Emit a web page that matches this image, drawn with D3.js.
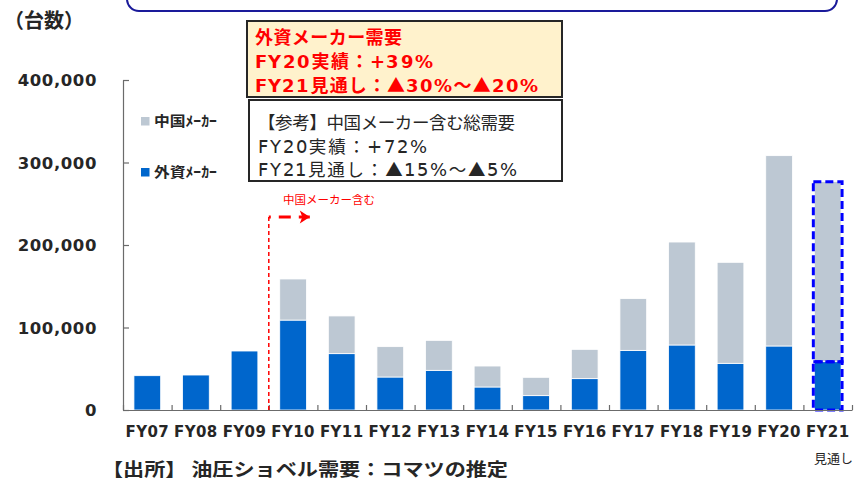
<!DOCTYPE html>
<html>
<head>
<meta charset="utf-8">
<script src="https://cdn.jsdelivr.net/npm/d3@7"></script>
<style>
  @font-face { font-family: "LatinW"; src: local("DejaVu Sans Bold"), local("DejaVuSans-Bold"); font-weight: 700; unicode-range: U+0020-007E; }
  @font-face { font-family: "LatinW"; src: local("DejaVu Sans"), local("DejaVuSans"); font-weight: 400; unicode-range: U+0020-007E; }
  html, body { margin: 0; padding: 0; background: #fff; }
  svg { display: block; }
  .jp { font-family: "Noto Sans CJK JP", "Noto Sans", sans-serif; }
  .mix { font-family: "LatinW", "Noto Sans CJK JP", sans-serif; }
  .lat { font-family: "DejaVu Sans", Verdana, sans-serif; }
</style>
</head>
<body>
<svg id="chart" width="856" height="486"></svg>
<script>
// Hydraulic excavator demand (units), foreign makers vs. Chinese makers
const categories = ["FY07","FY08","FY09","FY10","FY11","FY12","FY13","FY14","FY15","FY16","FY17","FY18","FY19","FY20","FY21"];
const foreignMakers = [41600, 42400, 71500, 109000, 68300, 40000, 48100, 27900, 17400, 38000, 72300, 78800, 56600, 77600, 58600];
const chineseMakers = [0, 0, 0, 49800, 45700, 36800, 36300, 25400, 22200, 35500, 62700, 124800, 122400, 230700, 218200];
const yTicks = [0, 100000, 200000, 300000, 400000];
const forecastCategory = "FY21";
const chinaStartCategory = "FY10";

const svg = d3.select("#chart");

const x = d3.scaleBand().domain(categories).range([123, 852]).paddingInner(0.45).paddingOuter(0.225);
const y = d3.scaleLinear().domain([0, 400000]).range([410, 80]);

const colForeign = "#0066CC";
const colChina = "#BDC8D3";
const axisCol = "#6b6b6b";
const textCol = "#262626";

// --- top heading frame (continues above the visible area)
svg.append("rect").attr("x", 127).attr("y", -24).attr("width", 710).attr("height", 35)
  .attr("rx", 12).attr("fill", "#fff").attr("stroke", "#1a1a9a").attr("stroke-width", 2);

// --- unit label
svg.append("text").attr("class", "jp").attr("x", 4).attr("y", 28)
  .attr("font-size", 20).attr("font-weight", 700).attr("fill", textCol).text("（台数）");

// --- stacked bars
const rows = categories.map((c, i) => ({ cat: c, foreign: foreignMakers[i], china: chineseMakers[i] }));
const stack = d3.stack().keys(["foreign", "china"])(rows);
const colors = { foreign: colForeign, china: colChina };

svg.append("g").selectAll("g").data(stack).join("g")
  .attr("fill", d => colors[d.key])
  .selectAll("rect").data(d => d.filter(p => p[1] > p[0])).join("rect")
  .attr("x", d => x(d.data.cat))
  .attr("width", x.bandwidth())
  .attr("y", d => y(d[1]))
  .attr("height", d => y(d[0]) - y(d[1]))
  .attr("stroke", "#fff").attr("stroke-width", 0.8);

// forecast year outlined with dashed blue boxes
svg.append("g").selectAll("rect").data(stack.map(s => s.find(p => p.data.cat === forecastCategory))).join("rect")
  .attr("x", d => x(d.data.cat) - 1)
  .attr("width", x.bandwidth() + 2)
  .attr("y", d => y(d[1]))
  .attr("height", d => y(d[0]) - y(d[1]))
  .attr("fill", "none").attr("stroke", "#0000FF").attr("stroke-width", 3)
  .attr("stroke-dasharray", "8,4");

// --- y axis
const yAxis = svg.append("g").attr("transform", "translate(123,0)")
  .call(d3.axisLeft(y).tickValues(yTicks).tickSize(-6).tickSizeOuter(0).tickFormat(d3.format(",")));
yAxis.select(".domain").attr("stroke", axisCol).attr("stroke-width", 1.2);
yAxis.selectAll(".tick line").attr("stroke", axisCol).attr("stroke-width", 1.2);
yAxis.selectAll(".tick text").attr("class", "lat").attr("x", -26).attr("dy", "0.36em")
  .attr("font-size", 16.5).attr("font-weight", 700).attr("letter-spacing", 0.6).attr("fill", textCol);

// --- x axis: boundary ticks and category labels
const idx = d3.scaleLinear().domain([0, categories.length]).range([x.range()[0], x.range()[1]]);
const xTicks = svg.append("g").attr("transform", "translate(0,410)")
  .call(d3.axisBottom(idx).tickValues(d3.range(categories.length + 1)).tickSize(-5).tickSizeOuter(0).tickFormat(""));
xTicks.select(".domain").attr("stroke", axisCol).attr("stroke-width", 1.2);
xTicks.selectAll(".tick line").attr("stroke", axisCol).attr("stroke-width", 1.2);

const xAxis = svg.append("g").attr("transform", "translate(0,410)")
  .call(d3.axisBottom(x).tickSize(0).tickPadding(16));
xAxis.select(".domain").remove();
xAxis.selectAll(".tick text").attr("class", "lat")
  .attr("font-size", 15).attr("font-weight", 700).attr("letter-spacing", 0.4).attr("fill", textCol);

svg.append("text").attr("class", "jp").attr("x", 853).attr("y", 463).attr("text-anchor", "end")
  .attr("font-size", 13).attr("fill", textCol).text("見通し");

// --- legend
const legend = [
  { label: "中国ﾒｰｶｰ", color: colChina, y: 121.5 },
  { label: "外資ﾒｰｶｰ", color: colForeign, y: 172.5 }
];
const lg = svg.append("g").selectAll("g").data(legend).join("g");
lg.append("rect").attr("x", 141).attr("y", d => d.y - 4.5).attr("width", 8.5).attr("height", 8.5).attr("fill", d => d.color);
lg.append("text").attr("class", "jp").attr("x", 154).attr("y", d => d.y + 4.5)
  .attr("font-size", 14).attr("font-weight", 700).attr("fill", textCol)
  .attr("textLength", 63).attr("lengthAdjust", "spacingAndGlyphs").text(d => d.label);

// --- marker: Chinese makers included from FY10 onward
const bx = x(chinaStartCategory) - x.step() * x.paddingInner() / 2;
svg.append("line").attr("x1", bx).attr("x2", bx).attr("y1", 217).attr("y2", 410)
  .attr("stroke", "#FF0000").attr("stroke-width", 1.5).attr("stroke-dasharray", "4,3");
svg.append("line").attr("x1", bx).attr("x2", bx + 41).attr("y1", 217).attr("y2", 217)
  .attr("stroke", "#FF0000").attr("stroke-width", 3).attr("stroke-dasharray", "2,8,12,8,12");
svg.append("path")
  .attr("d", `M${bx + 41},217 l-10,-6.5 l2.5,6.5 l-2.5,6.5 Z`)
  .attr("fill", "#FF0000");
svg.append("text").attr("class", "jp").attr("x", 283).attr("y", 204)
  .attr("font-size", 11.5).attr("fill", "#FF0000").text("中国メーカー含む");

// --- callout: foreign-maker demand
svg.append("rect").attr("x", 247).attr("y", 21).attr("width", 315).attr("height", 76)
  .attr("fill", "#FFF2CC").attr("stroke", "#262626").attr("stroke-width", 2);
const redLines = [
  { t: "外資メーカー需要", w: 147, y: 44 },
  { t: "FY20実績：+39%", w: 178, y: 68 },
  { t: "FY21見通し：▲30%～▲20%", w: 283, y: 91.5 }
];
svg.append("g").selectAll("text").data(redLines).join("text").attr("class", "mix")
  .attr("x", 255).attr("y", d => d.y)
  .attr("font-size", 18).attr("font-weight", 700).attr("fill", "#FF0000")
  .attr("textLength", d => d.w).attr("lengthAdjust", "spacing").text(d => d.t);

// --- callout: total demand including Chinese makers
svg.append("rect").attr("x", 249).attr("y", 100).attr("width", 313).attr("height", 81)
  .attr("fill", "#fff").attr("stroke", "#262626").attr("stroke-width", 2);
const refLines = [
  { t: "【参考】中国メーカー含む総需要", w: 257, y: 129 },
  { t: "FY20実績：+72%", w: 169, y: 153 },
  { t: "FY21見通し：▲15%～▲5%", w: 259, y: 176 }
];
svg.append("g").selectAll("text").data(refLines).join("text").attr("class", "mix")
  .attr("x", 258).attr("y", d => d.y)
  .attr("font-size", 17.5).attr("fill", textCol)
  .attr("textLength", d => d.w).attr("lengthAdjust", "spacing").text(d => d.t);

// --- source note
svg.append("text").attr("class", "jp").attr("x", 102).attr("y", 476)
  .attr("font-size", 18).attr("font-weight", 700).attr("fill", textCol)
  .attr("textLength", 406).attr("lengthAdjust", "spacingAndGlyphs")
  .text("【出所】 油圧ショベル需要：コマツの推定");
</script>
</body>
</html>
